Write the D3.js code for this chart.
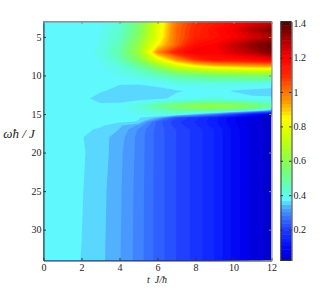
<!DOCTYPE html>
<html>
<head>
<meta charset="utf-8">
<script src="https://cdn.jsdelivr.net/npm/d3@7"></script>
<style>
body { margin: 0; background: #fff; }
text { font-family: "Liberation Serif", serif; fill: #222; }
</style>
</head>
<body>
<script>
// t axis samples and omega axis samples (omega is not evenly spaced, denser near the edge at 15)
const tValues = [0, 1, 2, 3, 4, 5, 6, 7, 8, 9, 10, 11, 12];
const omegaValues = [3, 4, 5, 6, 7, 8, 9, 10, 11, 12, 13, 14, 14.5, 15, 15.5, 16, 16.5, 17, 18, 20, 25, 34];

// values, one row per omega
const rows = [
  [.375, .375, .38, .385, .42, .54, .78, 1.0, 1.10, 1.14, 1.18, 1.22, 1.25],
  [.375, .375, .38, .385, .43, .56, .79, 1.02, 1.11, 1.17, 1.22, 1.30, 1.36],
  [.375, .375, .38, .39, .44, .58, .80, 1.02, 1.12, 1.16, 1.20, 1.25, 1.30],
  [.375, .375, .38, .39, .46, .62, .85, 1.03, 1.17, 1.20, 1.27, 1.34, 1.38],
  [.375, .375, .38, .395, .48, .64, .97, 1.14, 1.22, 1.20, 1.25, 1.30, 1.36],
  [.375, .375, .38, .39, .45, .58, .78, .95, 1.08, 1.15, 1.15, 1.17, 1.20],
  [.375, .375, .375, .385, .41, .47, .58, .72, .78, .82, .85, .87, .88],
  [.375, .375, .375, .38, .39, .41, .45, .50, .52, .55, .56, .57, .57],
  [.375, .375, .375, .375, .37, .37, .38, .40, .41, .41, .41, .41, .40],
  [.375, .375, .375, .37, .36, .355, .355, .365, .372, .378, .365, .355, .35],
  [.375, .375, .375, .358, .352, .352, .36, .375, .39, .40, .385, .375, .375],
  [.375, .375, .375, .375, .38, .42, .50, .57, .62, .63, .62, .58, .50],
  [.375, .375, .375, .375, .38, .40, .44, .48, .50, .50, .47, .42, .33],
  [.375, .375, .375, .375, .38, .39, .41, .42, .36, .30, .22, .13, .08],
  [.375, .375, .375, .375, .375, .37, .34, .22, .18, .14, .09, .055, .03],
  [.375, .375, .375, .375, .372, .366, .25, .20, .17, .135, .09, .05, .03],
  [.375, .375, .375, .372, .35, .32, .25, .205, .175, .14, .095, .05, .03],
  [.375, .375, .375, .3625, .345, .30, .25, .215, .185, .15, .10, .055, .03],
  [.375, .375, .369, .355, .335, .295, .25, .215, .185, .15, .10, .055, .03],
  [.375, .375, .37, .358, .33, .295, .25, .215, .185, .15, .10, .055, .03],
  [.375, .375, .369, .354, .328, .293, .25, .215, .185, .15, .10, .055, .03],
  [.375, .375, .367, .352, .326, .292, .25, .215, .185, .15, .10, .055, .03]
];

// colormap stops, jet like but stretched by eye from the colorbar
const colorVals = [.02, .08, .14, .20, .28, .33, .375, .45, .55, .65, .75, .85, .90, .95, 1.0, 1.1, 1.2, 1.3, 1.41];
const colorHex = ["#0000c8", "#0000f0", "#0a1eff", "#1e3cff", "#3a78ff", "#50a8ff", "#5ff8ff", "#5fffc0", "#78ff70", "#a0ff30", "#d0ff00", "#ffff00", "#ffc800", "#ff9600", "#ff7800", "#ff2800", "#ff0000", "#b00000", "#500000"];

const tTicks = [0, 2, 4, 6, 8, 10, 12];
const omegaTicks = [5, 10, 15, 20, 25, 30];
const barTicks = [.2, .4, .6, .8, 1, 1.2, 1.4];
const nLevels = 64;
const vMin = .02, vMax = 1.41;

const plotLeft = 43.5, plotRight = 271.5, plotTop = 21.5, plotBottom = 260.5;
const barLeft = 280.5, barRight = 291.5;

const svg = d3.select("body").append("svg").attr("width", 332).attr("height", 293);

const x = d3.scaleLinear().domain([0, 12]).range([plotLeft, plotRight]);
const y = d3.scaleLinear().domain([3, 34]).range([plotTop, plotBottom]);
const barY = d3.scaleLinear().domain([vMin, vMax]).range([plotBottom, plotTop]);
const color = d3.scaleLinear().domain(colorVals).range(colorHex);

const step = (vMax - vMin) / nLevels;
const levels = d3.range(nLevels).map(i => vMin + i * step);

// grid index to data value, the spacing is uneven so this goes through a scale too
const tFromIndex = d3.scaleLinear().domain(d3.range(tValues.length)).range(tValues).clamp(true);
const omegaFromIndex = d3.scaleLinear().domain(d3.range(omegaValues.length)).range(omegaValues).clamp(true);

const project = d3.geoTransform({
  point: function (cx, cy) {
    // d3.contours puts samples on half integer coordinates
    this.stream.point(x(tFromIndex(cx - .5)), y(omegaFromIndex(cy - .5)));
  }
});
const path = d3.geoPath(project);

const contours = d3.contours()
  .size([tValues.length, omegaValues.length])
  .thresholds(levels)(rows.flat());

svg.append("clipPath").attr("id", "plot")
  .append("rect").attr("x", plotLeft).attr("y", plotTop).attr("width", plotRight - plotLeft).attr("height", plotBottom - plotTop);

const plot = svg.append("g").attr("clip-path", "url(#plot)");
plot.selectAll("path").data(contours).join("path")
  .attr("d", path)
  .attr("fill", d => color(d.value + step / 2));

// colorbar
svg.append("g").selectAll("rect").data(levels).join("rect")
  .attr("x", barLeft)
  .attr("width", barRight - barLeft)
  .attr("y", d => barY(d + step))
  .attr("height", d => barY(d) - barY(d + step) + .5)
  .attr("fill", d => color(d + step / 2));

function styleAxis(g, stroke) {
  g.selectAll("path").attr("stroke", stroke).attr("stroke-width", 1);
  g.selectAll("line").attr("stroke", stroke).attr("stroke-width", 1);
  g.selectAll("text").style("font-size", "10px");
  return g;
}

// main axes, ticks point inward
const bottomAxis = svg.append("g").attr("transform", `translate(0,${plotBottom})`)
  .call(d3.axisBottom(x).tickValues(tTicks).tickSizeInner(-2.5).tickSizeOuter(0).tickPadding(3));
styleAxis(bottomAxis, "#333");
const leftAxis = svg.append("g").attr("transform", `translate(${plotLeft},0)`)
  .call(d3.axisLeft(y).tickValues(omegaTicks).tickSizeInner(-2.5).tickSizeOuter(0).tickPadding(2));
styleAxis(leftAxis, "#333");
const topAxis = svg.append("g").attr("transform", `translate(0,${plotTop})`)
  .call(d3.axisTop(x).tickValues(tTicks).tickSizeInner(-2.5).tickSizeOuter(0).tickFormat(""));
styleAxis(topAxis, "#888");
const rightAxis = svg.append("g").attr("transform", `translate(${plotRight},0)`)
  .call(d3.axisRight(y).tickValues(omegaTicks).tickSizeInner(-2.5).tickSizeOuter(0).tickFormat(""));
styleAxis(rightAxis, "#888");

// colorbar frame and ticks
const barAxisR = svg.append("g").attr("transform", `translate(${barRight},0)`)
  .call(d3.axisRight(barY).tickValues(barTicks).tickSizeInner(-2.5).tickSizeOuter(0).tickPadding(3).tickFormat(d => String(d)));
styleAxis(barAxisR, "#333");
barAxisR.selectAll("text").attr("x", 2);
const barAxisL = svg.append("g").attr("transform", `translate(${barLeft},0)`)
  .call(d3.axisLeft(barY).tickValues(barTicks).tickSizeInner(-2.5).tickSizeOuter(0).tickFormat(""));
styleAxis(barAxisL, "#333");
svg.append("line").attr("x1", barLeft).attr("x2", barRight).attr("y1", plotTop).attr("y2", plotTop).attr("stroke", "#333");
svg.append("line").attr("x1", barLeft).attr("x2", barRight).attr("y1", plotBottom).attr("y2", plotBottom).attr("stroke", "#333");

// axis titles
svg.append("text").attr("x", 19).attr("y", 138).attr("text-anchor", "middle")
  .style("font-size", "13px").style("font-style", "italic").text("ωħ / J");
svg.append("text").attr("x", 157).attr("y", 283).attr("text-anchor", "middle")
  .style("font-size", "10px").style("font-style", "italic").attr("xml:space", "preserve").text("t  J/ħ");
</script>
</body>
</html>
